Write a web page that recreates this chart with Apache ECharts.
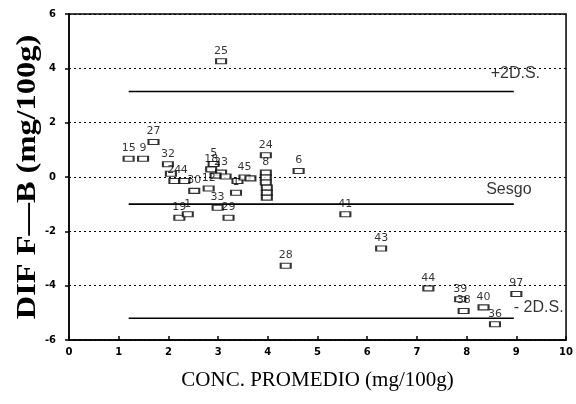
<!DOCTYPE html>
<html>
<head>
<meta charset="utf-8">
<script src="https://cdn.jsdelivr.net/npm/echarts@6/dist/echarts.min.js"></script>
<style>
  html, body { margin: 0; padding: 0; background: #fff; }
  #chart-container { width: 576px; height: 404px; }
</style>
</head>
<body>
<div id="chart-container"></div>
<script>
var dom = document.getElementById('chart-container');
var myChart = echarts.init(dom, null, { renderer: 'canvas' });

// muestras: etiqueta, concentracion promedio, diferencia F-B
const sampleLabels = ['15', '9', '27', '32', '', '24', '4', '30', '18', '5', '12', '23', '', '',
  '33', '29', '1', '', '45', '', '8', '', '', '', '', '', '24', '6', '19', '1', '25',
  '41', '28', '43', '44', '39', '38', '40', '36', '97'];
const concMean = [1.20, 1.49, 1.70, 1.99, 2.05, 2.12, 2.32, 2.52, 2.86, 2.91, 2.81, 3.06, 2.95, 3.15,
  2.99, 3.21, 3.36, 3.39, 3.53, 3.65, 3.96, 3.96, 3.96, 3.98, 3.98, 3.98, 3.96, 4.62, 2.22, 2.39, 3.06,
  5.56, 4.36, 6.28, 7.23, 7.87, 7.94, 8.34, 8.57, 9.00];
const diffFB = [0.67, 0.67, 1.29, 0.47, 0.12, -0.15, -0.15, -0.51, 0.28, 0.48, -0.42, 0.16, 0.05, 0.02,
  -1.13, -1.50, -0.58, -0.15, -0.02, -0.05, 0.16, -0.02, -0.20, -0.39, -0.58, -0.76, 0.80, 0.22, -1.50, -1.37, 4.26,
  -1.37, -3.27, -2.63, -4.10, -4.50, -4.93, -4.80, -5.42, -4.31];

// lineas de referencia
const lineStart = 1.2;
const lineEnd = 8.95;
const upperLimit = 3.15;
const bias = -1.0;
const lowerLimit = -5.2;

const yTicks = [-6, -4, -2, 0, 2, 4, 6];
const xTicks = [0, 1, 2, 3, 4, 5, 6, 7, 8, 9, 10];

// textos de las lineas [x, y, texto]
const lineTexts = [
  [8.98, 3.8, '+2D.S.'],
  [8.85, -0.45, 'Sesgo'],
  [9.45, -4.8, '- 2D.S.']
];

const points = concMean.map((x, i) => [x, diffFB[i], sampleLabels[i]]);

function refLine(y) {
  return {
    type: 'line',
    data: [[lineStart, y], [lineEnd, y]],
    symbol: 'none',
    silent: true,
    lineStyle: { color: '#000', width: 1.6 },
    z: 2
  };
}

var option = {
  animation: false,
  grid: {
    left: 69, top: 14, width: 499, height: 326,
    show: true, borderColor: '#000', borderWidth: 1.5, backgroundColor: 'transparent'
  },
  xAxis: {
    type: 'value',
    min: 0, max: 10, interval: 1,
    name: 'CONC. PROMEDIO (mg/100g)',
    nameLocation: 'middle',
    nameGap: 30,
    nameTextStyle: { fontFamily: 'Liberation Serif', fontSize: 21, color: '#000' },
    axisLine: { onZero: false, lineStyle: { color: '#000', width: 1.5 } },
    axisTick: { inside: true, length: 4, lineStyle: { color: '#000', width: 1.5 } },
    axisLabel: {
      margin: 7, color: '#000', fontFamily: 'DejaVu Sans', fontWeight: 'bold', fontSize: 10,
      formatter: v => xTicks.includes(v) ? String(v) : ''
    },
    splitLine: { show: false }
  },
  yAxis: {
    type: 'value',
    min: -6, max: 6, interval: 2,
    axisLine: { onZero: false, lineStyle: { color: '#000', width: 1.5 } },
    axisTick: { length: 4, lineStyle: { color: '#000', width: 1.5 } },
    axisLabel: {
      margin: 13, color: '#000', fontFamily: 'DejaVu Sans', fontWeight: 'bold', fontSize: 10,
      formatter: v => yTicks.includes(v) ? String(v) : ''
    },
    splitLine: { show: true, lineStyle: { color: '#000', type: [2, 3], width: 1.2 } }
  },
  graphic: [{
    type: 'text',
    x: 28, y: 177,
    rotation: Math.PI / 2,
    scaleX: 1.2,
    style: {
      text: 'DIF F\u2014B (mg/100g)',
      font: 'bold 27px "Liberation Serif"',
      fill: '#000',
      align: 'center',
      verticalAlign: 'middle'
    }
  }],
  series: [
    refLine(upperLimit),
    refLine(bias),
    refLine(lowerLimit),
    {
      type: 'scatter',
      data: points,
      symbol: 'rect',
      symbolSize: [10, 5],
      itemStyle: { color: '#fff', borderColor: '#000', borderWidth: 1.5 },
      label: {
        show: true,
        position: 'top',
        distance: 2,
        color: '#000',
        fontFamily: 'DejaVu Sans',
        fontSize: 11,
        formatter: p => p.data[2]
      },
      labelLayout: { hideOverlap: false },
      z: 3
    },
    {
      type: 'scatter',
      data: lineTexts,
      symbolSize: 0,
      silent: true,
      label: {
        show: true,
        position: 'inside',
        color: '#000',
        fontFamily: 'Liberation Sans',
        fontSize: 16,
        formatter: p => p.data[2]
      },
      z: 4
    }
  ]
};

myChart.setOption(option);
window.addEventListener('resize', myChart.resize);
</script>
</body>
</html>
